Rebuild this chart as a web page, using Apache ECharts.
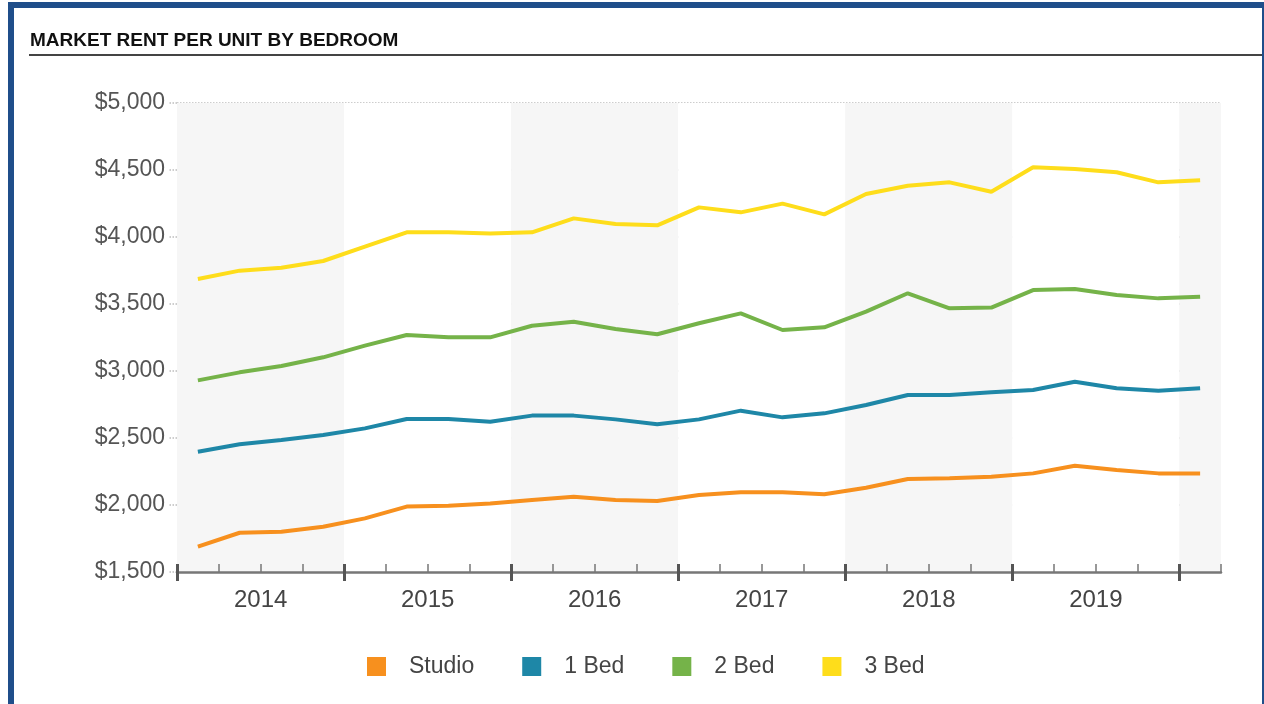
<!DOCTYPE html>
<html>
<head>
<meta charset="utf-8">
<script src="https://cdn.jsdelivr.net/npm/echarts@6/dist/echarts.min.js"></script>
<style>
  html, body { margin: 0; padding: 0; background: #fff; }
  #wrap { position: relative; width: 1264px; height: 704px; overflow: hidden; }
  #frame { position: absolute; left: 8px; top: 2px; width: 1248px; height: 720px;
           border-top: 6px solid #1f4e8a; border-left: 6px solid #1f4e8a; border-right: 3px solid #1f4e8a; }
  #main { position: absolute; left: 0; top: 0; width: 1264px; height: 704px; }
</style>
</head>
<body>
<div id="wrap">
  <div id="frame"></div>
  <div id="main"></div>
</div>
<script>
var quarters = ['2014 Q1','2014 Q2','2014 Q3','2014 Q4',
                '2015 Q1','2015 Q2','2015 Q3','2015 Q4',
                '2016 Q1','2016 Q2','2016 Q3','2016 Q4',
                '2017 Q1','2017 Q2','2017 Q3','2017 Q4',
                '2018 Q1','2018 Q2','2018 Q3','2018 Q4',
                '2019 Q1','2019 Q2','2019 Q3','2019 Q4',
                '2020 Q1'];
var studio = [1690, 1793, 1801, 1838, 1900, 1988, 1995, 2012, 2037, 2062, 2037, 2030, 2075,
              2095, 2095, 2080, 2129, 2194, 2199, 2211, 2236, 2293, 2261, 2236, 2236];
var bed1 = [2398, 2453, 2485, 2522, 2572, 2642, 2642, 2622, 2667, 2667, 2639, 2602, 2639,
            2704, 2654, 2684, 2746, 2821, 2821, 2841, 2858, 2920, 2871, 2853, 2871];
var bed2 = [2930, 2990, 3037, 3102, 3189, 3269, 3251, 3251, 3338, 3368, 3313, 3274, 3356,
            3430, 3306, 3326, 3443, 3580, 3468, 3473, 3604, 3612, 3567, 3542, 3555];
var bed3 = [3687, 3749, 3771, 3821, 3928, 4035, 4035, 4027, 4035, 4139, 4097, 4087, 4221,
            4184, 4249, 4169, 4321, 4383, 4408, 4338, 4520, 4507, 4483, 4408, 4423];
var seriesNames = ['Studio', '1 Bed', '2 Bed', '3 Bed'];
var colors = ['#f7901e', '#1e87a7', '#75b349', '#fedd1b'];

var myChart = echarts.init(document.getElementById('main'));
var font = 'Arial, "Liberation Sans", sans-serif';

// plot box
var plotLeft = 177, plotRight = 1221, plotTop = 103, plotBottom = 572;
var band = (plotRight - plotLeft) / quarters.length;
// whole years only (the last, partial year gets no major tick at its end)
var fullQuarters = quarters.slice(0, 24);

function line(name, data, color) {
    return {
        name: name,
        type: 'line',
        data: data,
        symbol: 'none',
        color: color,
        lineStyle: { width: 4, color: color },
        z: 3
    };
}

var option = {
    animation: false,
    textStyle: { fontFamily: font },
    title: {
        text: 'MARKET RENT PER UNIT BY BEDROOM',
        left: 30,
        top: 31,
        padding: 0,
        textStyle: { fontSize: 19, fontWeight: 'bold', color: '#111', fontFamily: font }
    },
    graphic: [{
        type: 'line',
        shape: { x1: 29, y1: 55, x2: 1262, y2: 55 },
        style: { stroke: '#444', lineWidth: 2 }
    }],
    legend: {
        left: 367,
        top: 655,
        padding: 0,
        itemWidth: 19,
        itemHeight: 19,
        itemGap: 48,
        icon: 'rect',
        data: seriesNames,
        textStyle: { fontSize: 23, color: '#444', padding: [0, 0, 0, 18], fontFamily: font }
    },
    grid: [
        { left: plotLeft, width: plotRight - plotLeft, top: plotTop, height: plotBottom - plotTop },
        { left: plotLeft, width: band * fullQuarters.length, top: plotTop, height: plotBottom - plotTop }
    ],
    xAxis: [{
        type: 'category',
        gridIndex: 0,
        data: quarters,
        boundaryGap: true,
        axisLine: { show: true, lineStyle: { color: '#777', width: 2.5 } },
        axisTick: { show: true, interval: 0, inside: true, length: 8, lineStyle: { color: '#777', width: 1.5 } },
        axisLabel: {
            interval: function (index) { return index % 4 === 1 && index < 24; },
            formatter: function (v) { return v.slice(0, 4); },
            fontSize: 24,
            color: '#444',
            margin: 16,
            padding: [0, 0, 0, 42],
            fontFamily: font
        },
        splitLine: { show: false },
        splitArea: { show: true, interval: 3, areaStyle: { color: ['#f6f6f6', '#ffffff'] } }
    }, {
        type: 'category',
        gridIndex: 1,
        data: fullQuarters,
        position: 'bottom',
        offset: -8,
        boundaryGap: true,
        axisLine: { show: false },
        axisTick: { show: true, interval: 3, inside: false, length: 17, lineStyle: { color: '#555', width: 3 } },
        axisLabel: { show: false },
        splitLine: { show: false },
        splitArea: { show: false }
    }],
    yAxis: [{
        type: 'value',
        gridIndex: 0,
        min: 1500,
        max: 5000,
        interval: 500,
        axisLine: { show: false },
        axisTick: { show: true, length: 9, lineStyle: { color: '#bdbdbd', type: 'dotted', width: 1.5 } },
        axisLabel: {
            formatter: function (v) { return '$' + v.toLocaleString('en-US'); },
            fontSize: 23,
            color: '#555',
            margin: 12,
            fontFamily: font
        },
        splitLine: { lineStyle: { color: '#bdbdbd', type: 'dotted', width: 1.5 } }
    }, {
        type: 'value',
        gridIndex: 1,
        min: 1500,
        max: 5000,
        interval: 500,
        show: false
    }],
    series: [
        line(seriesNames[0], studio, colors[0]),
        line(seriesNames[1], bed1, colors[1]),
        line(seriesNames[2], bed2, colors[2]),
        line(seriesNames[3], bed3, colors[3])
    ]
};
myChart.setOption(option);
</script>
</body>
</html>
